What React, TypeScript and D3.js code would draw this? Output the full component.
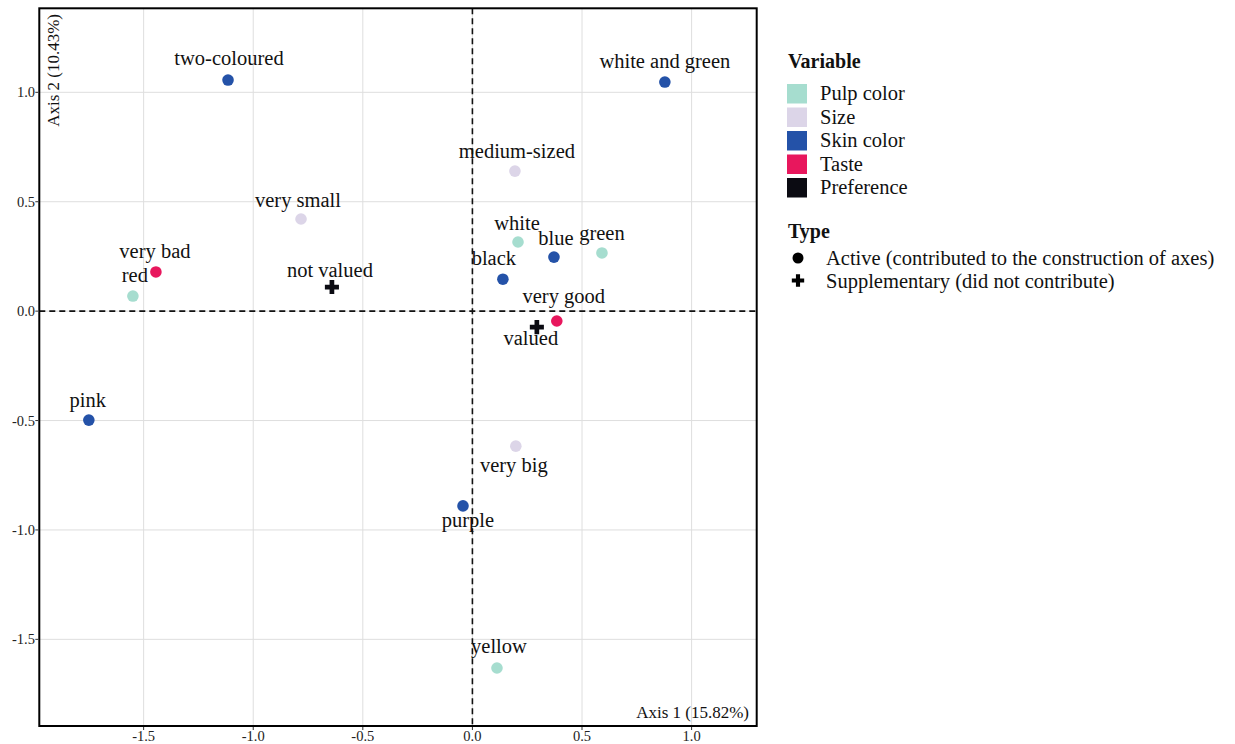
import React, { useEffect } from "react";
import * as d3 from "d3";

// ---- Data ----
const labels = [
  "two-coloured", "white and green", "medium-sized", "very small", "white", "blue",
  "green", "black", "very bad", "red", "not valued", "very good", "valued",
  "pink", "very big", "purple", "yellow",
];
const dim1 = [
  -1.115, 0.878, 0.194, -0.782, 0.208, 0.372,
  0.591, 0.139, -1.444, -1.549, -0.641, 0.385, 0.294,
  -1.75, 0.198, -0.043, 0.112,
];
const dim2 = [
  1.056, 1.047, 0.64, 0.421, 0.316, 0.247,
  0.266, 0.146, 0.179, 0.069, 0.11, -0.045, -0.073,
  -0.498, -0.617, -0.89, -1.631,
];
const variables = [
  "Skin color", "Skin color", "Size", "Size", "Pulp color", "Skin color",
  "Pulp color", "Skin color", "Taste", "Pulp color", "Preference", "Taste", "Preference",
  "Skin color", "Size", "Skin color", "Pulp color",
];
const types = [
  "Active", "Active", "Active", "Active", "Active", "Active",
  "Active", "Active", "Active", "Active", "Supplementary", "Active", "Supplementary",
  "Active", "Active", "Active", "Active",
];
const variableNames = ["Pulp color", "Size", "Skin color", "Taste", "Preference"];
const typeNames = [
  "Active (contributed to the construction of axes)",
  "Supplementary (did not contribute)",
];
const xTicks = [-1.5, -1.0, -0.5, 0.0, 0.5, 1.0];
const yTicks = [-1.5, -1.0, -0.5, 0.0, 0.5, 1.0];
const xTitle = "Axis 1 (15.82%)";
const yTitle = "Axis 2 (10.43%)";

// ---- Styling / layout ----
const palette = ["#a6ddcf", "#dcd5e8", "#2452a8", "#e8175d", "#0b0b12"];
const labelNudge: Record<string, [number, number]> = {
  "two-coloured": [1, -15],
  "white and green": [0, -14],
  "medium-sized": [2, -13],
  "very small": [-3, -12],
  white: [-1, -12],
  blue: [2, -12],
  green: [0, -13],
  black: [-9, -14],
  "very bad": [-1, -14],
  red: [2, -14],
  "not valued": [-2, -10],
  "very good": [7, -18],
  valued: [-6, 18],
  pink: [-1, -13],
  "very big": [-2, 26],
  purple: [5, 21],
  yellow: [2, -15],
};

const W = 1235;
const H = 744;
const plot = { left: 39.3, right: 756.7, top: 8.3, bottom: 726 };
const FONT = "'Liberation Serif', 'DejaVu Serif', serif";
const fmt = (t: number) => t.toFixed(1);

export default function App() {
  useEffect(() => {
    document.body.style.margin = "0";
  }, []);

  const x = d3.scaleLinear().domain([-1.976, 1.297]).range([plot.left, plot.right]);
  const y = d3.scaleLinear().domain([-1.896, 1.384]).range([plot.bottom, plot.top]);
  const color = d3.scaleOrdinal<string, string>().domain(variableNames).range(palette);
  const cross = d3.symbol().type(d3.symbolCross).size(110)() as string;
  const legendCross = d3.symbol().type(d3.symbolCross).size(85)() as string;

  const idx = labels.map((_, i) => i);

  return (
    <svg width={W} height={H} style={{ display: "block", background: "#fff" }} fontFamily={FONT}>
      {/* grid */}
      <g>
        {xTicks.map((t) => (
          <line key={"gx" + t} x1={x(t)} x2={x(t)} y1={plot.top} y2={plot.bottom} stroke="#dedede" strokeWidth={1} />
        ))}
        {yTicks.map((t) => (
          <line key={"gy" + t} y1={y(t)} y2={y(t)} x1={plot.left} x2={plot.right} stroke="#dedede" strokeWidth={1} />
        ))}
      </g>
      {/* zero lines */}
      <line x1={x(0)} x2={x(0)} y1={plot.top} y2={plot.bottom} stroke="#111" strokeWidth={1.6} strokeDasharray="6,4" />
      <line y1={y(0)} y2={y(0)} x1={plot.left} x2={plot.right} stroke="#111" strokeWidth={1.6} strokeDasharray="6,4" />

      {/* border */}
      <rect x={plot.left} y={plot.top} width={plot.right - plot.left} height={plot.bottom - plot.top} fill="none" stroke="#000" strokeWidth={2} />

      {/* ticks */}
      {xTicks.map((t) => (
        <g key={"tx" + t}>
          <line x1={x(t)} x2={x(t)} y1={plot.bottom + 1} y2={plot.bottom + 4} stroke="#333" />
          <text x={x(t)} y={741} textAnchor="middle" fontSize={14.5} fill="#222">
            {fmt(t)}
          </text>
        </g>
      ))}
      {yTicks.map((t) => (
        <g key={"ty" + t}>
          <line x1={plot.left - 4} x2={plot.left - 1} y1={y(t)} y2={y(t)} stroke="#333" />
          <text x={35} y={y(t) + 5} textAnchor="end" fontSize={14.5} fill="#222">
            {fmt(t)}
          </text>
        </g>
      ))}

      {/* axis titles inside plot */}
      <text x={749} y={718} textAnchor="end" fontSize={17} fill="#111">
        {xTitle}
      </text>
      <text transform="translate(59,14) rotate(-90)" textAnchor="end" fontSize={17} fill="#111">
        {yTitle}
      </text>

      {/* labels */}
      {idx.map((i) => {
        const n = labelNudge[labels[i]] || [0, -13];
        return (
          <text key={"l" + i} x={x(dim1[i]) + n[0]} y={y(dim2[i]) + n[1]} textAnchor="middle" fontSize={20.5} fill="#111">
            {labels[i]}
          </text>
        );
      })}

      {/* points */}
      {idx.map((i) =>
        types[i] === "Active" ? (
          <circle key={"p" + i} cx={x(dim1[i])} cy={y(dim2[i])} r={5.8} fill={color(variables[i])} />
        ) : (
          <path key={"p" + i} d={cross} transform={`translate(${x(dim1[i])},${y(dim2[i])})`} fill={color(variables[i])} />
        )
      )}

      {/* legend */}
      <g>
        <text x={788} y={68} fontSize={20} fontWeight="bold" fill="#111">
          Variable
        </text>
        {variableNames.map((v, k) => (
          <g key={"lv" + v} transform={`translate(787,${84 + k * 23.5})`}>
            <rect x={0} y={0} width={20} height={19.5} fill={color(v)} />
            <text x={33} y={16} fontSize={20.5} fill="#111">
              {v}
            </text>
          </g>
        ))}
        <text x={788} y={238} fontSize={20} fontWeight="bold" fill="#111">
          Type
        </text>
        {typeNames.map((t, k) => (
          <g key={"lt" + k} transform={`translate(798,${258 + k * 22.5})`}>
            {k === 0 ? <circle r={5.5} fill="#000" /> : <path d={legendCross} fill="#000" />}
            <text x={28} y={7} fontSize={20.5} fill="#111">
              {t}
            </text>
          </g>
        ))}
      </g>
    </svg>
  );
}
